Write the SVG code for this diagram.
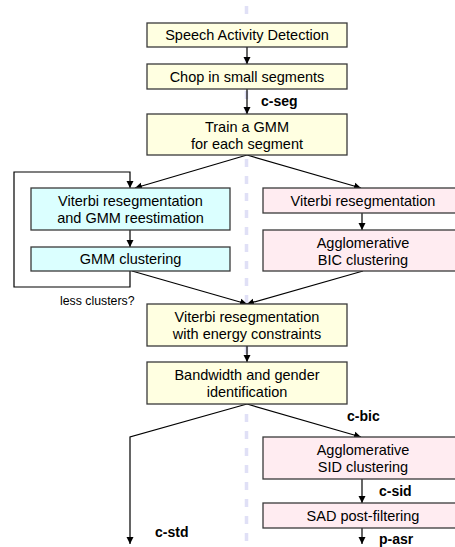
<svg xmlns="http://www.w3.org/2000/svg" width="455" height="547" viewBox="0 0 455 547">
<defs>
<marker id="ah" markerWidth="8" markerHeight="8" refX="7" refY="4" orient="auto" markerUnits="userSpaceOnUse">
<path d="M0,0.5 L7,4 L0,7.5 Z" fill="#000"/>
</marker>
<style>
.y{fill:#ffffe1;stroke:#3a3a3a;stroke-width:1.3}
.c{fill:#dbffff;stroke:#3a3a3a;stroke-width:1.3}
.p{fill:#ffecf1;stroke:#3a3a3a;stroke-width:1.3}
.t{font-family:"Liberation Sans",Arial,sans-serif;font-size:14.5px;fill:#000;text-anchor:middle}
.b{font-family:"Liberation Sans",Arial,sans-serif;font-size:14px;font-weight:bold;fill:#000}
.s{font-family:"Liberation Sans",Arial,sans-serif;font-size:12.3px;fill:#000}
.l{fill:none;stroke:#000;stroke-width:1.2}
</style>
</defs>
<rect width="455" height="547" fill="#fff"/>
<line x1="246.5" y1="6" x2="246.5" y2="547" stroke="#e0e0f6" stroke-width="3.5" stroke-dasharray="8,9"/>
<g id="connectors">
<line class="l" x1="247" y1="47" x2="247" y2="64" marker-end="url(#ah)"/>
<line class="l" x1="247" y1="89" x2="247" y2="114" marker-end="url(#ah)"/>
<line class="l" x1="247" y1="155" x2="135" y2="188" marker-end="url(#ah)"/>
<line class="l" x1="247" y1="155" x2="361" y2="188" marker-end="url(#ah)"/>
<polyline class="l" points="130,271 130,287 14,287 14,172 130,172 130,188" marker-end="url(#ah)"/>
<line class="l" x1="130" y1="230" x2="130" y2="247" marker-end="url(#ah)"/>
<line class="l" x1="362" y1="213" x2="362" y2="230" marker-end="url(#ah)"/>
<line class="l" x1="132" y1="271" x2="247" y2="304" marker-end="url(#ah)"/>
<line class="l" x1="363" y1="271" x2="247" y2="304" marker-end="url(#ah)"/>
<line class="l" x1="247" y1="346" x2="247" y2="362" marker-end="url(#ah)"/>
<polyline class="l" points="247,404 130,437 130,544" marker-end="url(#ah)"/>
<line class="l" x1="247" y1="404" x2="361" y2="437" marker-end="url(#ah)"/>
<line class="l" x1="362" y1="479" x2="362" y2="503" marker-end="url(#ah)"/>
<line class="l" x1="362" y1="528" x2="362" y2="544" marker-end="url(#ah)"/>
<text class="b" x="261" y="106">c-seg</text>
<text class="s" x="60" y="305">less clusters?</text>
<text class="b" x="347" y="421">c-bic</text>
<text class="b" x="155" y="537">c-std</text>
<text class="b" x="379" y="496">c-sid</text>
<text class="b" x="379" y="543.5">p-asr</text>
</g>
<g id="sad"><rect class="y" x="147" y="23" width="200" height="24"/><text class="t" x="247" y="40">Speech Activity Detection</text></g>
<g id="chop"><rect class="y" x="147" y="64" width="200" height="25"/><text class="t" x="247" y="81.5">Chop in small segments</text></g>
<g id="train"><rect class="y" x="147" y="114" width="200" height="41"/><text class="t" x="247" y="131.5">Train a GMM</text><text class="t" x="247" y="148.5">for each segment</text></g>
<g id="vit1"><rect class="c" x="31" y="188" width="199" height="42"/><text class="t" x="130.5" y="205.5">Viterbi resegmentation</text><text class="t" x="130.5" y="222.5">and GMM reestimation</text></g>
<g id="gmmclust"><rect class="c" x="31" y="247" width="199" height="24"/><text class="t" x="130.5" y="264">GMM clustering</text></g>
<g id="vit2"><rect class="p" x="263" y="188" width="202" height="25"/><text class="t" x="363" y="205.5">Viterbi resegmentation</text></g>
<g id="bic"><rect class="p" x="263" y="230" width="202" height="41"/><text class="t" x="363" y="247.5">Agglomerative</text><text class="t" x="363" y="264.5">BIC clustering</text></g>
<g id="energy"><rect class="y" x="147" y="304" width="200" height="42"/><text class="t" x="247" y="321.5">Viterbi resegmentation</text><text class="t" x="247" y="338.5">with energy constraints</text></g>
<g id="bw"><rect class="y" x="147" y="362" width="200" height="42"/><text class="t" x="247" y="379.5">Bandwidth and gender</text><text class="t" x="247" y="396.5">identification</text></g>
<g id="sid"><rect class="p" x="263" y="437" width="202" height="42"/><text class="t" x="363" y="454.5">Agglomerative</text><text class="t" x="363" y="471.5">SID clustering</text></g>
<g id="postfilt"><rect class="p" x="263" y="503" width="202" height="25"/><text class="t" x="363" y="520.5">SAD post-filtering</text></g>
</svg>
